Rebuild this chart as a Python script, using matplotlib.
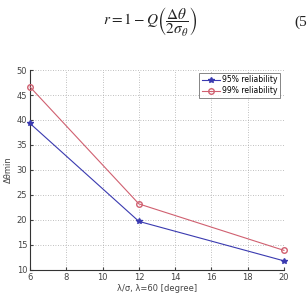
import matplotlib
matplotlib.use("Agg")
import matplotlib.pyplot as plt

# data
x_vals = [6, 12, 20]
rel95 = [39.3, 19.7, 11.8]
rel99 = [46.6, 23.2, 13.9]
series_labels = ['95% reliability', '99% reliability']
x_ticks = [6, 8, 10, 12, 14, 16, 18, 20]
y_ticks = [10, 15, 20, 25, 30, 35, 40, 45, 50]

plt.rcParams['mathtext.fontset'] = 'stix'
fig = plt.figure(figsize=(3.07, 2.93), dpi=100)
ax = fig.add_axes([0.098, 0.079, 0.827, 0.682])

# equation above the chart
fig.text(0.49, 0.925, r'$r = 1 - Q\left(\dfrac{\Delta\theta}{2\sigma_\theta}\right)$',
         ha='center', va='center', fontsize=11, color='#222222')
fig.text(1.0, 0.925, '(5', ha='right', va='center', fontsize=11,
         family='Liberation Serif', color='#222222')

ax.plot(x_vals, rel95, color='#3a3ab0', lw=0.8, marker='*', ms=4,
        label=series_labels[0], clip_on=False, zorder=3)
ax.plot(x_vals, rel99, color='#d06070', lw=0.8, marker='o', ms=4,
        mfc='none', label=series_labels[1], clip_on=False, zorder=3)

ax.set_xlim(6, 20)
ax.set_ylim(10, 50)
ax.set_xticks(x_ticks)
ax.set_yticks(y_ticks)
ax.tick_params(labelsize=6, length=2, direction='in', colors='#444444', pad=2)
ax.grid(True, linestyle=(0, (1, 2)), color='#aaaaaa', lw=0.6)
for s in ['top', 'right']:
    ax.spines[s].set_visible(False)
for s in ['left', 'bottom']:
    ax.spines[s].set_linewidth(0.8)
    ax.spines[s].set_color('#333333')

ax.set_xlabel(r'λ/σ, λ=60 [degree]', fontsize=6, labelpad=2, color='#444444')
ax.set_ylabel('Δθmin', fontsize=6, labelpad=3, color='#444444')

leg = ax.legend(loc='upper right', fontsize=5.5, frameon=True, fancybox=False,
                edgecolor='#666666', borderpad=0.3, handlelength=2.4,
                handletextpad=0.3, bbox_to_anchor=(0.985, 0.985),
                labelspacing=0.25, borderaxespad=0)
leg.get_frame().set_linewidth(0.7)

fig.savefig('out.png', dpi=100)
